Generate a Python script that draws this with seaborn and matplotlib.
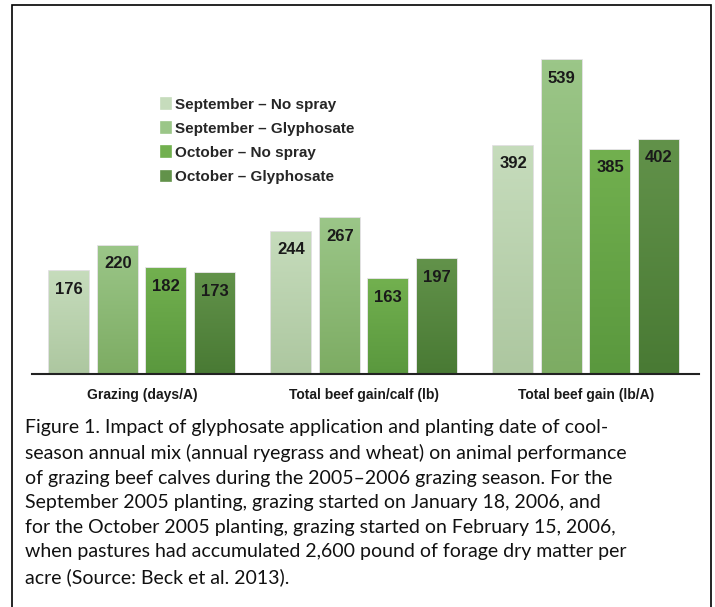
import numpy as np
import pandas as pd
import matplotlib.pyplot as plt
import seaborn as sns
from matplotlib.colors import LinearSegmentedColormap
from matplotlib.patches import Rectangle

# chart values
measures = ["Grazing (days/A)", "Total beef gain/calf (lb)", "Total beef gain (lb/A)"]
treatments = ["September – No spray", "September – Glyphosate",
              "October – No spray", "October – Glyphosate"]
sept_no_spray = [176, 244, 392]
sept_glyphosate = [220, 267, 539]
oct_no_spray = [182, 163, 385]
oct_glyphosate = [173, 197, 402]

# light (top) and dark (bottom) shade for each treatment
top_colors = ["#c6dcbc", "#9bc688", "#72b04f", "#62924a"]
bottom_colors = ["#adc7a0", "#7dac63", "#5a983e", "#497a34"]

caption = ("Figure 1. Impact of glyphosate application and planting date of cool-\n"
           "season annual mix (annual ryegrass and wheat) on animal performance\n"
           "of grazing beef calves during the 2005–2006 grazing season. For the\n"
           "September 2005 planting, grazing started on January 18, 2006, and\n"
           "for the October 2005 planting, grazing started on February 15, 2006,\n"
           "when pastures had accumulated 2,600 pound of forage dry matter per\n"
           "acre (Source: Beck et al. 2013).")

series = [sept_no_spray, sept_glyphosate, oct_no_spray, oct_glyphosate]
df = pd.DataFrame({
    "measure": measures * len(treatments),
    "treatment": [t for t in treatments for _ in measures],
    "value": [v for s in series for v in s],
})

sns.set_style("white")
plt.rcParams["font.family"] = ["Liberation Sans", "DejaVu Sans"]

fig = plt.figure(figsize=(7.15, 6.07), dpi=100)
ax = fig.add_axes([0.045, 0.384, 0.933, 0.537])

sns.barplot(data=df, x="measure", y="value", hue="treatment",
            order=measures, hue_order=treatments, palette=top_colors,
            width=0.875, gap=0.18, ax=ax, legend=True,
            edgecolor="#dcdcdc", linewidth=1.2)

# gradient fill clipped to each bar
for cont, c_top, c_bot in zip(ax.containers, top_colors, bottom_colors):
    cmap = LinearSegmentedColormap.from_list("g", [c_bot, c_top])
    for bar in cont:
        x, w, h = bar.get_x(), bar.get_width(), bar.get_height()
        grad = np.linspace(1, 0, 100).reshape(-1, 1)
        im = ax.imshow(grad, extent=[x, x + w, 0, h], aspect="auto",
                       cmap=cmap, zorder=bar.get_zorder() + 0.1)
        im.set_clip_path(bar)
        ax.annotate(f"{h:.0f}", xy=(x + w / 2, h), xytext=(0, -13),
                    textcoords="offset points", ha="center", va="center",
                    fontsize=12, fontweight="bold", color="#1a1a1a",
                    zorder=5)

ax.set_xlim(-0.495, 2.51)
ax.set_ylim(0, 560)
ax.set_xlabel("")
ax.set_ylabel("")
ax.set_yticks([])
ax.tick_params(axis="x", length=0, pad=10)
for lbl in ax.get_xticklabels():
    lbl.set_fontweight("bold")
    lbl.set_fontsize(10)
    lbl.set_color("#1a1a1a")
for side in ["top", "left", "right"]:
    ax.spines[side].set_visible(False)
ax.spines["bottom"].set_color("#222222")
ax.spines["bottom"].set_linewidth(1.5)

handles, labels = ax.get_legend_handles_labels()
for hd, c in zip(handles, top_colors):
    hd.set_facecolor(c)
    hd.set_edgecolor(c)
ax.legend(handles, labels, loc="upper left", bbox_to_anchor=(0.173, 0.89),
          frameon=False, handlelength=0.65, handleheight=0.7,
          handletextpad=0.25, labelspacing=0.67,
          prop={"weight": "bold", "size": 11})

# outer frame
fig.patches.append(Rectangle((12 / 715, -0.02), (711 - 12) / 715, 1.02 - 5 / 607,
                             transform=fig.transFigure, fill=False,
                             edgecolor="black", linewidth=1.2))

fig.text(25 / 715, 1 - 419 / 607, caption, ha="left", va="top",
         fontsize=14, family="Lato", linespacing=1.54, color="#111111")

fig.savefig("out.png", dpi=100)
